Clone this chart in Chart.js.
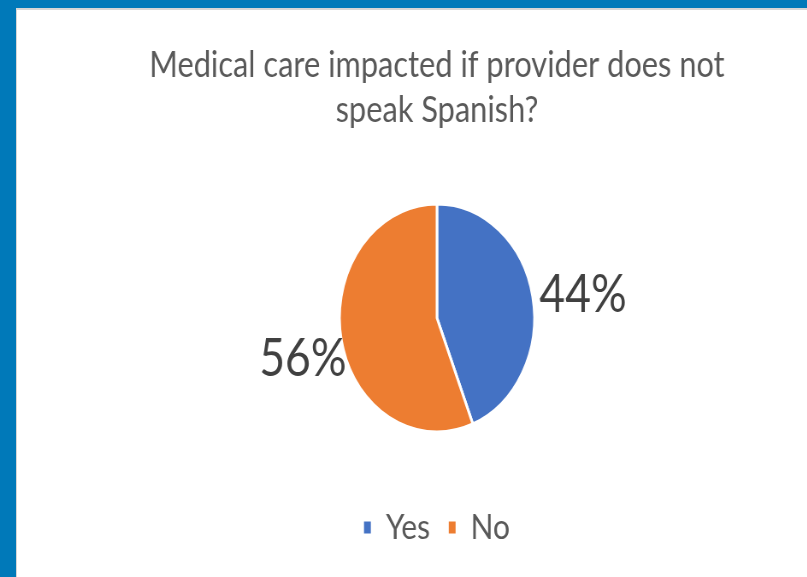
<!DOCTYPE html>
<html>
<head>
<meta charset="utf-8">
<script src="https://cdn.jsdelivr.net/npm/chart.js@4/dist/chart.umd.min.js"></script>
<style>
  html, body { margin: 0; padding: 0; }
  body { width: 807px; height: 577px; background: #0079b9; overflow: hidden; position: relative; }
  #panel {
    position: absolute; left: 16px; top: 8px; right: 0; bottom: 0;
    background: #fff; border-left: 1px solid #d6d6d6; border-top: 2px solid #d6d6d6;
    overflow: hidden;
  }
  #chart {
    position: absolute; left: 1px; top: 0;
    width: 980px; height: 567px;
    transform: scaleX(0.855); transform-origin: 0 0;
  }
</style>
</head>
<body>
<div id="panel"><canvas id="chart" width="980" height="567"></canvas></div>
<script>
const titleLines = ["Medical care impacted if provider does not", "speak Spanish?"];
const categories = ["Yes", "No"];
const shares = [44, 56];
const sliceColors = ["#4472c4", "#ed7d31"];

// percent labels placed just outside each slice
const outsideLabels = {
  id: "outsideLabels",
  afterDatasetsDraw(chart, args, opts) {
    const ctx = chart.ctx;
    const meta = chart.getDatasetMeta(0);
    const total = shares.reduce((a, b) => a + b, 0);
    ctx.save();
    ctx.font = "52px Lato";
    ctx.fillStyle = "#404040";
    ctx.textBaseline = "middle";
    meta.data.forEach((arc, i) => {
      const p = arc.getProps(["x", "y", "startAngle", "endAngle", "outerRadius"], true);
      const mid = (p.startAngle + p.endAngle) / 2;
      const r = p.outerRadius + 8;
      const nudge = opts.nudge[i] || [0, 0];
      const x = p.x + Math.cos(mid) * r + nudge[0];
      const y = p.y + Math.sin(mid) * r + nudge[1];
      ctx.textAlign = Math.cos(mid) >= 0 ? "left" : "right";
      ctx.fillText(Math.round(shares[i] / total * 100) + "%", x, y);
    });
    ctx.restore();
  }
};

new Chart(document.getElementById("chart"), {
  type: "pie",
  data: {
    labels: categories,
    datasets: [{
      data: shares,
      backgroundColor: sliceColors,
      borderColor: "#ffffff",
      borderWidth: 3,
      radius: 114
    }]
  },
  options: {
    responsive: false,
    animation: false,
    layout: { padding: { bottom: 22 } },
    plugins: {
      title: {
        display: true,
        text: titleLines,
        color: "#595959",
        font: { family: "Lato", size: 36, weight: "normal", lineHeight: 1.25 },
        padding: { top: 33, bottom: 15 }
      },
      legend: {
        position: "bottom",
        labels: {
          color: "#595959",
          font: { family: "Lato", size: 35 },
          boxWidth: 8,
          boxHeight: 12,
          padding: 22,
          generateLabels(chart) {
            const items = Chart.overrides.pie.plugins.legend.labels.generateLabels(chart);
            items.forEach(it => { it.lineWidth = 0; });
            return items;
          }
        }
      },
      outsideLabels: { nudge: [[0, 0], [14, 18]] },
      tooltip: { enabled: false }
    }
  },
  plugins: [outsideLabels]
});
</script>
</body>
</html>
